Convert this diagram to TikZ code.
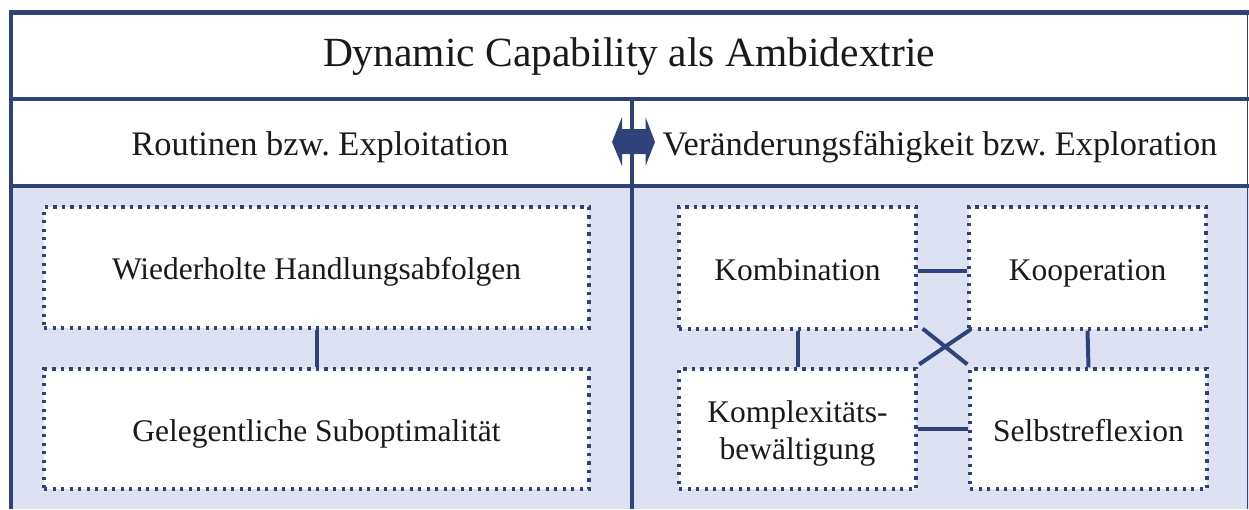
\documentclass[tikz,border=0pt]{standalone}
\usepackage{fontspec}
\setmainfont{Liberation Serif}
\definecolor{dblue}{RGB}{47,66,122}
\definecolor{lfill}{RGB}{221,225,242}
\definecolor{txt}{RGB}{26,26,26}
\begin{document}
\frenchspacing
\begin{tikzpicture}[x=1pt,y=-1pt,
  frameline/.style={draw=dblue,line width=4.5pt},
  dotbox/.style={draw=dblue,line width=3.3pt,dash pattern=on 3.3pt off 5.2pt,fill=white,
    inner sep=0pt,align=center,text=txt,font=\fontsize{31.5}{36.7}\selectfont},
  oneline/.style={text height=30pt,text depth=6pt},
  conn/.style={draw=dblue,line width=4pt},
  headtext/.style={text=txt,font=\fontsize{34.4}{41}\selectfont,inner sep=0pt,
    text height=24pt,text depth=8pt},
  titletext/.style={text=txt,font=\fontsize{41.5}{50}\selectfont,inner sep=0pt}]
\useasboundingbox (0,0) rectangle (1249,509);
% areas
\fill[white] (11,12) rectangle (1247,186);
\fill[lfill] (11,186) rectangle (1249,509);
% frame lines
\draw[draw=dblue,line width=1.5pt] (1247.5,10) -- (1247.5,509);
\draw[frameline] (8.75,12.5) -- (1249,12.5);
\draw[frameline] (11,99) -- (1249,99);
\draw[frameline] (11,186) -- (1249,186);
\draw[frameline] (11,10.25) -- (11,509);
\draw[draw=dblue,line width=4pt] (632,99) -- (632,509);
% double arrow
\fill[dblue] (612,142) -- (622,117) -- (622,129) -- (645.5,129) -- (645.5,117) -- (655,142)
  -- (645.5,166) -- (645.5,154) -- (622,154) -- (622,166) -- cycle;
% texts
\node[titletext] (title) at (629,57) {Dynamic Capability als Ambidextrie};
\node[headtext] (hleft) at (320,147) {Routinen bzw. Exploitation};
\node[headtext] (hright) at (940,147) {Veränderungsfähigkeit bzw. Exploration};
% boxes
\node[dotbox,oneline,minimum width=545pt,minimum height=121pt] (wh) at (316.5,267.5) {Wiederholte Handlungsabfolgen};
\node[dotbox,oneline,minimum width=545pt,minimum height=120pt] (gs) at (316.5,429) {Gelegentliche Suboptimalität};
\node[dotbox,oneline,minimum width=237pt,minimum height=122pt] (kom) at (797.5,268) {Kombination};
\node[dotbox,oneline,minimum width=237pt,minimum height=122pt] (koo) at (1087.5,268) {Kooperation};
\node[dotbox,text height=66.7pt,text depth=6pt,minimum width=237pt,minimum height=120pt] (kpx) at (797.5,429) {Komplexitäts-\\bewältigung};
\node[dotbox,oneline,minimum width=237pt,minimum height=120pt] (sel) at (1088.5,429) {Selbstreflexion};
% connectors
\draw[conn] (wh.south) -- (gs.north);
\draw[conn] ([yshift=-3pt]kom.east) -- ([yshift=-3pt]koo.west);
\draw[conn] (kom.south) -- (kpx.north);
\draw[conn] (koo.south) -- (sel.north);
\draw[conn] (kpx.east) -- (sel.west);
\draw[conn] ([xshift=5pt,yshift=2pt]kom.south east) -- ([xshift=-1pt,yshift=3pt]sel.north west);
\draw[conn] ([xshift=3pt,yshift=1pt]koo.south west) -- ([xshift=1.5pt,yshift=3pt]kpx.north east);
\end{tikzpicture}
\end{document}
